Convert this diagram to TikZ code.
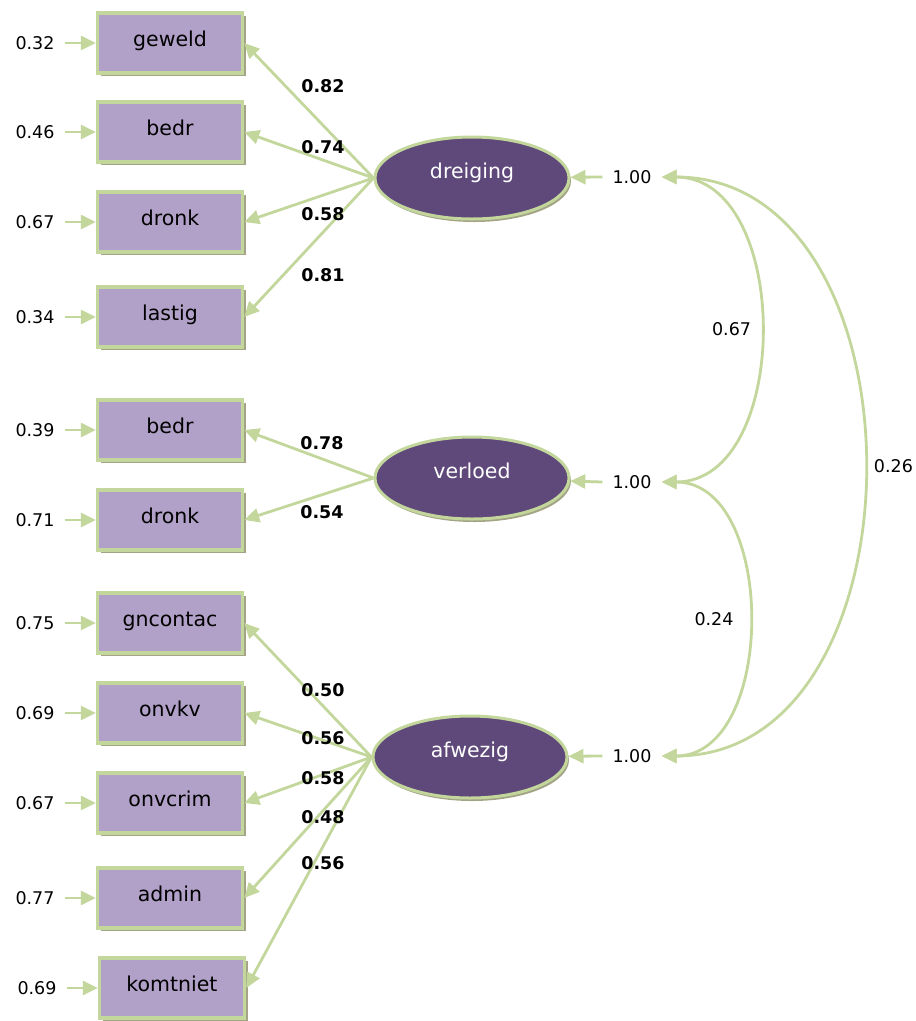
\documentclass[tikz,border=0pt]{standalone}
\usepackage{fontspec}
\setmainfont{DejaVu Sans}
\usetikzlibrary{arrows.meta, shapes.geometric, shadows}
\definecolor{obsfill}{HTML}{B1A0C7}
\definecolor{pathgreen}{HTML}{C3D69B}
\definecolor{latfill}{HTML}{5F497A}
\definecolor{shadowgrey}{HTML}{A3A386}

\begin{document}
\begin{tikzpicture}[
    x=1pt, y=-1pt,
    obs node/.style={rectangle, fill=obsfill, draw=pathgreen, line width=3.5pt, minimum width=145pt, inner sep=0pt, text height=33pt, text depth=27pt, font=\fontsize{20.5}{24}\selectfont, drop shadow={shadow xshift=3pt, shadow yshift=-3pt, fill=shadowgrey, opacity=1}},
    lat node/.style={ellipse, fill=latfill, draw=pathgreen, line width=3pt, minimum width=194pt, minimum height=82pt, inner sep=0pt, text=white, text height=12pt, text depth=12pt, font=\fontsize{20.5}{24}\selectfont, drop shadow={shadow xshift=2pt, shadow yshift=-3pt, fill=shadowgrey, opacity=1}},
    err node/.style={font=\fontsize{17.5}{20}\selectfont, inner xsep=10pt},
    est node/.style={font=\bfseries\fontsize{17.5}{20}\selectfont},
    cov label/.style={font=\fontsize{17.5}{20}\selectfont},
    load arrow/.style={draw=pathgreen, line width=2.8pt, -{Triangle[length=15pt, width=14pt]}},
    cov arrow/.style={draw=pathgreen, line width=2.8pt, {Triangle[length=15pt, width=14pt]}-{Triangle[length=15pt, width=14pt]}}
]
    \useasboundingbox (0,0) rectangle (916,1021);

    % Observed variables
    \node[obs node] (geweld) at (170,43) {geweld};
    \node[obs node] (bedrA) at (170,132) {bedr};
    \node[obs node] (dronkA) at (170,222) {dronk};
    \node[obs node] (lastig) at (170,317) {lastig};
    \node[obs node] (bedrB) at (170,430) {bedr};
    \node[obs node] (dronkB) at (170,520) {dronk};
    \node[obs node] (gncontac) at (170,623) {gncontac};
    \node[obs node] (onvkv) at (170,713) {onvkv};
    \node[obs node] (onvcrim) at (170,803) {onvcrim};
    \node[obs node] (admin) at (170,898) {admin};
    \node[obs node] (komtniet) at (172,988) {komtniet};

    % Latent factors
    \node[lat node] (dreiging) at (472,178) {dreiging};
    \node[lat node] (verloed) at (472,478) {verloed};
    \node[lat node] (afwezig) at (470,757) {afwezig};

    % Error variances
    \node[err node] (eGeweld) at (35,43) {0.32};
    \node[err node] (eBedrA) at (35,132) {0.46};
    \node[err node] (eDronkA) at (35,222) {0.67};
    \node[err node] (eLastig) at (35,317) {0.34};
    \node[err node] (eBedrB) at (35,430) {0.39};
    \node[err node] (eDronkB) at (35,520) {0.71};
    \node[err node] (eGncontac) at (35,623) {0.75};
    \node[err node] (eOnvkv) at (35,713) {0.69};
    \node[err node] (eOnvcrim) at (35,803) {0.67};
    \node[err node] (eAdmin) at (35,898) {0.77};
    \node[err node] (eKomtniet) at (37,988) {0.69};

    \draw[load arrow] (eGeweld.east) -- (geweld.west);
    \draw[load arrow] (eBedrA.east) -- (bedrA.west);
    \draw[load arrow] (eDronkA.east) -- (dronkA.west);
    \draw[load arrow] (eLastig.east) -- (lastig.west);
    \draw[load arrow] (eBedrB.east) -- (bedrB.west);
    \draw[load arrow] (eDronkB.east) -- (dronkB.west);
    \draw[load arrow] (eGncontac.east) -- (gncontac.west);
    \draw[load arrow] (eOnvkv.east) -- (onvkv.west);
    \draw[load arrow] (eOnvcrim.east) -- (onvcrim.west);
    \draw[load arrow] (eAdmin.east) -- (admin.west);
    \draw[load arrow] (eKomtniet.east) -- (komtniet.west);

    % Factor variances
    \node[err node] (vDreiging) at (632,177) {1.00};
    \node[err node] (vVerloed) at (632,482) {1.00};
    \node[err node] (vAfwezig) at (632,756) {1.00};

    \draw[load arrow] (vDreiging.west) -- (dreiging);
    \draw[load arrow] (vVerloed.west) -- (verloed);
    \draw[load arrow] (vAfwezig.west) -- (afwezig);

    % Loadings
    \draw[load arrow] (dreiging.west) -- (geweld.east);
    \draw[load arrow] (dreiging.west) -- (bedrA.east);
    \draw[load arrow] (dreiging.west) -- (dronkA.east);
    \draw[load arrow] (dreiging.west) -- (lastig.east);
    \draw[load arrow] (verloed.west) -- (bedrB.east);
    \draw[load arrow] (verloed.west) -- (dronkB.east);
    \draw[load arrow] (afwezig.west) -- (gncontac.east);
    \draw[load arrow] (afwezig.west) -- (onvkv.east);
    \draw[load arrow] (afwezig.west) -- (onvcrim.east);
    \draw[load arrow] (afwezig.west) -- (admin.east);
    \draw[load arrow] (afwezig.west) -- (komtniet.east);

    \node[est node] (lGeweld) at (323,86) {0.82};
    \node[est node] (lBedrA) at (323,147) {0.74};
    \node[est node] (lDronkA) at (323,214) {0.58};
    \node[est node] (lLastig) at (323,275) {0.81};
    \node[est node] (lBedrB) at (322,443) {0.78};
    \node[est node] (lDronkB) at (322,512) {0.54};
    \node[est node] (lGncontac) at (323,690) {0.50};
    \node[est node] (lOnvkv) at (323,738) {0.56};
    \node[est node] (lOnvcrim) at (323,778) {0.58};
    \node[est node] (lAdmin) at (323,817) {0.48};
    \node[est node] (lKomtniet) at (323,863) {0.56};

    % Covariances
    \draw[cov arrow] (vDreiging.east) to[out=0, in=0, looseness=1.1] node[cov label, left=4pt] {0.67} (vVerloed.east);
    \draw[cov arrow] (vVerloed.east) to[out=0, in=0, looseness=1.08] node[cov label, left=10pt] {0.24} (vAfwezig.east);
    \draw[cov arrow] (vDreiging.east) to[out=0, in=0, looseness=1.19] node[cov label, right=6pt] {0.26} (vAfwezig.east);
\end{tikzpicture}
\end{document}
